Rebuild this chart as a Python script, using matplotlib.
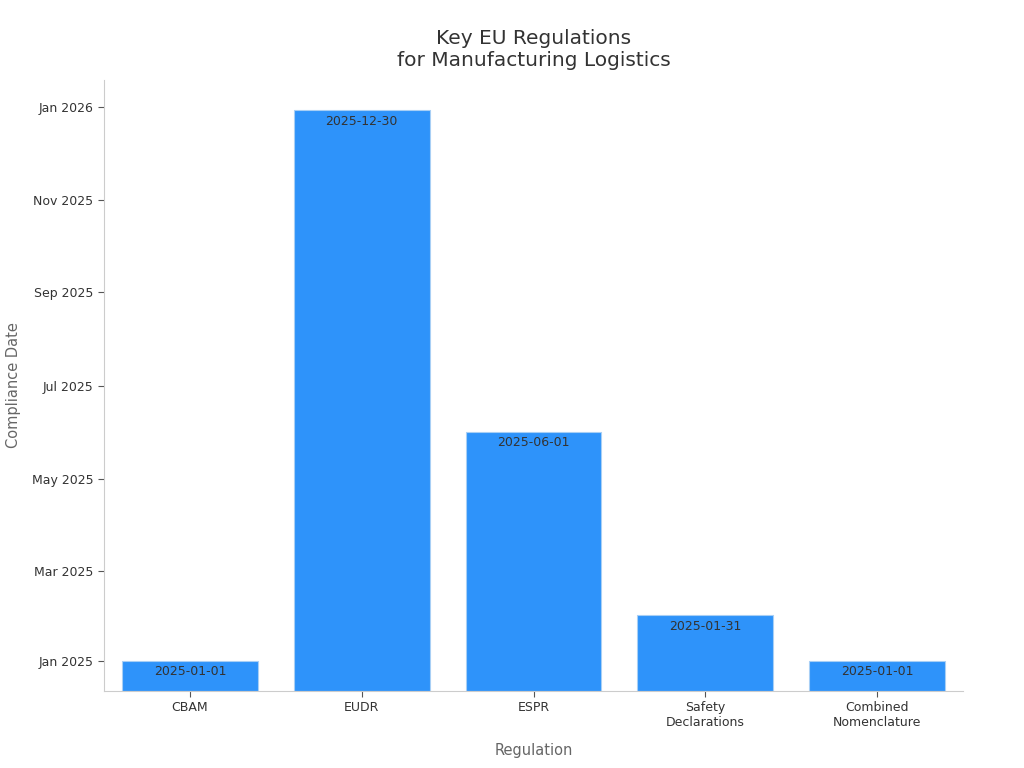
import matplotlib
matplotlib.use("Agg")
import matplotlib.pyplot as plt
import matplotlib.dates as mdates
import datetime as dt

regulations = ["CBAM", "EUDR", "ESPR", "Safety\nDeclarations", "Combined\nNomenclature"]
dates = ["2025-01-01", "2025-12-30", "2025-06-01", "2025-01-31", "2025-01-01"]

base = dt.date(2024, 12, 12)
top = dt.date(2026, 1, 19)
d = [dt.date.fromisoformat(s) for s in dates]
b0 = mdates.date2num(base)
heights = [mdates.date2num(x) - b0 for x in d]

fig = plt.figure(figsize=(10.24, 7.68), dpi=100)
ax = fig.add_axes([104/1024, 1-691/768, (963-104)/1024, (691-80)/768])
x = range(len(regulations))
ax.bar(x, heights, bottom=b0, width=0.79, color="#2E93FA", edgecolor="#a8cff5", linewidth=0.8)
for i, (h, s) in enumerate(zip(heights, dates)):
    ax.text(i, b0 + h - 3, s, ha="center", va="top", fontsize=9, color="#333333")

ax.set_xlim(-0.5, 4.5)
ax.set_ylim(b0, mdates.date2num(top))
ax.yaxis.set_major_locator(mdates.MonthLocator(bymonth=[1, 3, 5, 7, 9, 11]))
ax.yaxis.set_major_formatter(mdates.DateFormatter("%b %Y"))
ax.set_xticks(list(x))
ax.set_xticklabels(regulations)
ax.tick_params(labelsize=9, colors="#333333")
ax.tick_params(axis="both", color="#555555", length=4)
for s in ["top", "right"]:
    ax.spines[s].set_visible(False)
for s in ["left", "bottom"]:
    ax.spines[s].set_color("#cccccc")
ax.set_xlabel("Regulation", fontsize=10.5, color="#666666", labelpad=10)
ax.set_ylabel("Compliance Date", fontsize=10.5, color="#666666", labelpad=8)
ax.set_title("Key EU Regulations\nfor Manufacturing Logistics", fontsize=14.5, color="#333333", pad=10)
fig.savefig("out.png")
